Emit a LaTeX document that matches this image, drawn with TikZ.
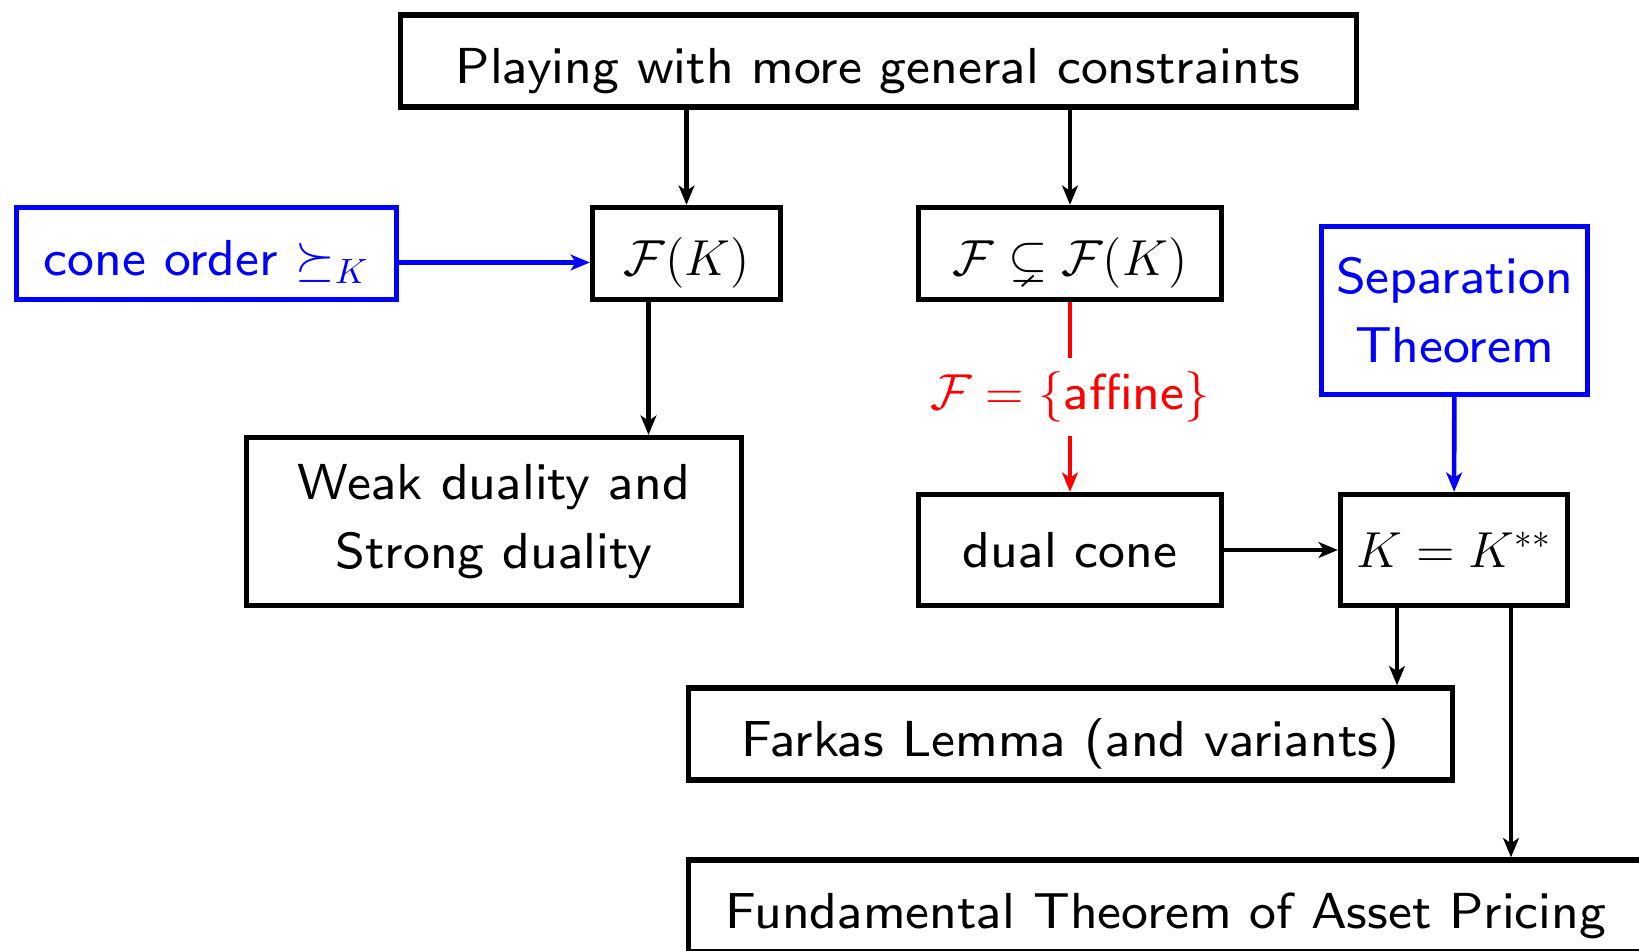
\documentclass[tikz,border=0pt]{standalone}
\usepackage{amsmath}
\usepackage{amssymb}
\usepackage{xcolor}
\usepackage{tikz}
\usetikzlibrary{arrows.meta,positioning,calc}
\renewcommand{\familydefault}{\sfdefault}
\font\sansviii=cmss8 at 14.4pt

\begin{document}
\begin{tikzpicture}[
    every node/.style={font=\fontsize{14.4}{19.5}\selectfont\sansviii},
    block/.style={
        draw=black,
        line width=1.5pt,
        align=center,
        inner sep=0pt,
        minimum height=0.92cm
    },
    low/.style={
        text height=0.45cm,
        text depth=0pt
    },
    blueblock/.style={
        block,
        draw=blue,
        text=blue
    },
    flow/.style={
        -{Stealth[length=5.5pt,width=4.5pt,inset=1.5pt]},
        line width=1.3pt
    }
]

% ==========================================================
% FRAME
% ==========================================================

\useasboundingbox (0,0) rectangle (16.39,-9.51);
\clip (0,0) rectangle (16.39,-9.51);

% ==========================================================
% TOP ROW
% ==========================================================

\node[
    block, low,
    minimum width=9.56cm
] (general) at (8.785,-0.61)
{Playing with more general constraints};

\node[
    blueblock, low,
    minimum width=3.80cm
] (coneorder) at (2.065,-2.535)
{cone order $\succeq_K$};

\node[
    block, low,
    minimum width=1.88cm
] (FK) at (6.865,-2.535)
{$\mathcal{F}(K)$};

\node[
    block, low,
    minimum width=3.03cm
] (Fsub) at (10.70,-2.535)
{$\mathcal{F}\subsetneq\mathcal{F}(K)$};

\node[
    blueblock,
    minimum width=2.66cm,
    minimum height=1.68cm
] (separation) at (14.545,-3.105)
{Separation\\Theorem};

% ==========================================================
% MIDDLE ROW
% ==========================================================

\node[
    block,
    minimum width=4.95cm,
    minimum height=1.68cm
] (duality) at (4.94,-5.215)
{Weak duality and\\Strong duality};

\node[
    block,
    minimum width=3.03cm,
    minimum height=1.11cm
] (dualcone) at (10.70,-5.50)
{dual cone};

\node[
    block,
    minimum width=2.27cm,
    minimum height=1.11cm
] (bidual) at (14.54,-5.50)
{$K=K^{**}$};

% ==========================================================
% BOTTOM ROWS
% ==========================================================

\node[
    block, low,
    minimum width=7.64cm
] (farkas) at (10.705,-7.34)
{Farkas Lemma (and variants)};

\node[
    block, low,
    minimum width=9.55cm
] (ftap) at (11.66,-9.06)
{Fundamental Theorem of Asset Pricing};

% ==========================================================
% CONNECTIONS
% ==========================================================

\draw[flow] (FK.north |- general.south) -- (FK.north);
\draw[flow] (Fsub.north |- general.south) -- (Fsub.north);

\draw[flow, blue]
([yshift=-0.09cm]coneorder.east) -- ([yshift=-0.09cm]FK.west);

\draw[flow]
([xshift=-0.38cm]FK.south) -- ([xshift=-0.38cm]FK.south |- duality.north);

\draw[flow, red]
(Fsub) --
node[midway, fill=white, text=red, inner ysep=4pt] {$\mathcal{F}=\{$affine$\}$}
(dualcone);

\draw[flow, blue] (separation) -- (bidual);
\draw[flow] (dualcone) -- (bidual);

\draw[flow]
([xshift=-0.57cm]bidual.south) -- ([xshift=-0.57cm]bidual.south |- farkas.north);
\draw[flow]
([xshift=0.57cm]bidual.south) -- ([xshift=0.57cm]bidual.south |- ftap.north);

\end{tikzpicture}
\end{document}
